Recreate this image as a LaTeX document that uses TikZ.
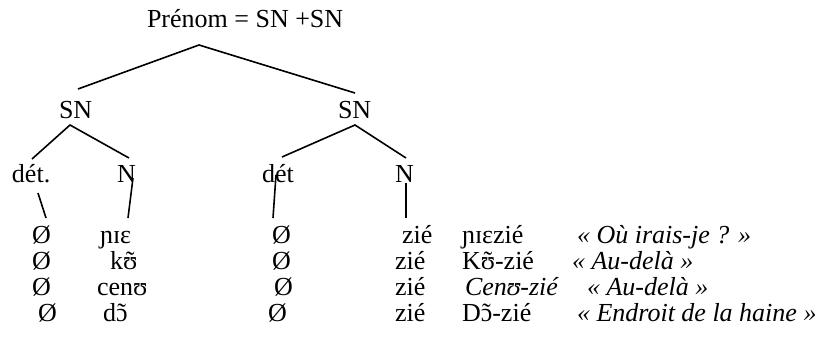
\documentclass[tikz,border=0pt]{standalone}
\usepackage{fontspec}
\setmainfont{Liberation Serif}
\newcommand{\tild}[1]{\ooalign{#1\cr\hidewidth\raisebox{-0.02em}{\char"02DC}\hidewidth\cr}}
\begin{document}
\begin{tikzpicture}[x=1pt,y=-1pt,
  lbl/.style={anchor=base west,inner sep=0pt,outer sep=0pt,font=\fontsize{26}{26}\selectfont},
  lbli/.style={lbl,font=\fontsize{26}{26}\selectfont\itshape},
  edge/.style={line width=1.6pt,line cap=butt}]
\useasboundingbox (0,0) rectangle (822,338);
% tree labels
\node[lbl] (top) at (147,27) {Prénom = SN +SN};
\node[lbl] (snl) at (59,118) {SN};
\node[lbl] (snr) at (338,118) {SN};
\node[lbl] (detl) at (12,182) {dét.};
\node[lbl] (nl) at (117,182) {N};
\node[lbl] (detr) at (262,182) {dét};
\node[lbl] (nr) at (395,182) {N};
% connector end points
\coordinate (t0) at (199,45);
\coordinate (t1) at (78,89);
\coordinate (t2) at (355,93);
\coordinate (l0) at (70,125);
\coordinate (l1) at (32,159);
\coordinate (l2) at (129,158);
\coordinate (r0) at (355,125);
\coordinate (r1) at (282,157);
\coordinate (r2) at (406,158);
\coordinate (a0) at (38,193);
\coordinate (a1) at (46,218);
\coordinate (b0) at (133,178);
\coordinate (b1) at (128,218);
\coordinate (c0) at (276,175);
\coordinate (c1) at (273,218);
\coordinate (d0) at (406,183);
\coordinate (d1) at (406,218);
\draw[edge] (t1) -- (t0) -- (t2);
\draw[edge] (l1) -- (l0) -- (l2);
\draw[edge] (r1) -- (r0) -- (r2);
\draw[edge] (a0) -- (a1);
\draw[edge] (b0) -- (b1);
\draw[edge] (c0) -- (c1);
\draw[edge] (d0) -- (d1);
% rows
\node[lbl] (o1a) at (32,243) {Ø};
\node[lbl] (w1) at (100,243) {ɲɪɛ};
\node[lbl] (o1b) at (272,243) {Ø};
\node[lbl] (z1) at (402,243) {zié};
\node[lbl] (f1) at (462,243) {ɲɪɛzié};
\node[lbli] (g1) at (577,243) {« Où irais-je ? »};
\node[lbl] (o2a) at (32,269) {Ø};
\node[lbl] (w2) at (110,269) {k\tild{ʊ}};
\node[lbl] (o2b) at (272,269) {Ø};
\node[lbl] (z2) at (395,269) {zié};
\node[lbl] (f2) at (462,269) {K\tild{ʊ}-zié};
\node[lbli] (g2) at (572,269) {« Au-delà »};
\node[lbl] (o3a) at (32,295) {Ø};
\node[lbl] (w3) at (97,295) {cenʊ};
\node[lbl] (o3b) at (274,295) {Ø};
\node[lbl] (z3) at (395,295) {zié};
\node[lbli] (f3) at (465,295) {Cenʊ-zié};
\node[lbli] (g3) at (587,295) {« Au-delà »};
\node[lbl] (o4a) at (38,321) {Ø};
\node[lbl] (w4) at (103,321) {d\tild{ɔ}};
\node[lbl] (o4b) at (268,321) {Ø};
\node[lbl] (z4) at (395,321) {zié};
\node[lbl] (f4) at (462,321) {D\tild{ɔ}-zié};
\node[lbli] (g4) at (577,321) {« Endroit de la haine »};
\end{tikzpicture}
\end{document}
